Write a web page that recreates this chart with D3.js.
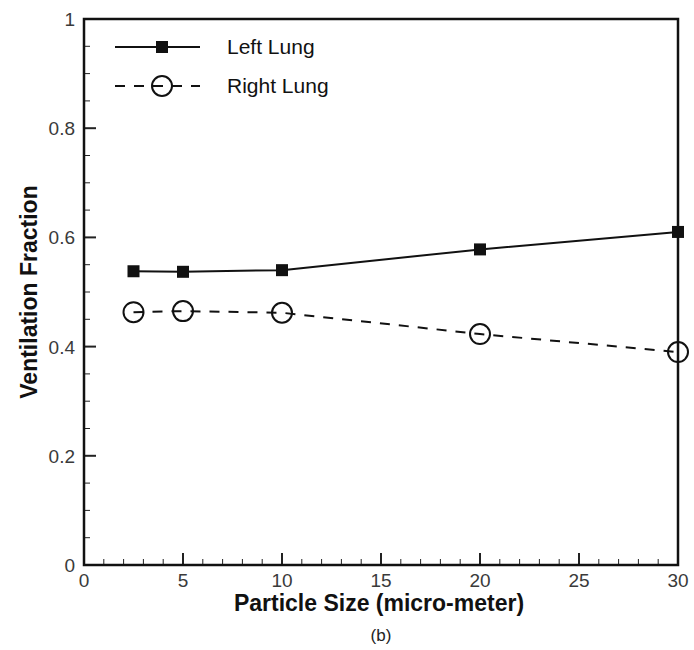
<head>
  <script src="https://d3js.org/d3.v7.min.js"></script>
  <style>
    body { margin: 0; background: #fff; }
    text { font-family: "Liberation Sans", Arial, sans-serif; }
    .tick-label { fill: #3a3a3a; font-size: 19px; }
    .axis-title { font-weight: bold; font-size: 23px; fill: #111; }
  </style>
</head>

<body>
  <svg id="chart" width="694" height="650"></svg>
</body>

<script>
  // data
  const particleSize = [2.5, 5, 10, 20, 30];
  const leftLung = [0.538, 0.537, 0.540, 0.578, 0.610];
  const rightLung = [0.463, 0.465, 0.462, 0.423, 0.390];
  const xTicks = [0, 5, 10, 15, 20, 25, 30];
  const yTicks = [0, 0.2, 0.4, 0.6, 0.8, 1];
  const seriesNames = ["Left Lung", "Right Lung"];

  const svg = d3.select("#chart");
  const margin = { top: 19, right: 16, bottom: 85, left: 84 };
  const width = 694, height = 650;
  const x = d3.scaleLinear().domain([0, 30]).range([margin.left, width - margin.right]);
  const y = d3.scaleLinear().domain([0, 1]).range([height - margin.bottom, margin.top]);

  const g = svg.append("g");

  // minor + major ticks, pointing inward
  const xMinor = d3.range(0, 31, 1);
  g.selectAll("line.xminor").data(xMinor).join("line")
    .attr("x1", d => x(d)).attr("x2", d => x(d))
    .attr("y1", y(0)).attr("y2", d => y(0) - (d % 5 === 0 ? 12 : 6))
    .attr("stroke", "#222").attr("stroke-width", d => d % 5 === 0 ? 2 : 1);

  const yMinor = d3.range(0, 21).map(i => i * 0.05);
  g.selectAll("line.yminor").data(yMinor).join("line")
    .attr("y1", d => y(d)).attr("y2", d => y(d))
    .attr("x1", x(0)).attr("x2", (d, i) => x(0) + (i % 4 === 0 ? 12 : 6))
    .attr("stroke", "#222").attr("stroke-width", (d, i) => i % 4 === 0 ? 2 : 1);

  // frame
  g.append("rect")
    .attr("x", x(0)).attr("y", y(1))
    .attr("width", x(30) - x(0)).attr("height", y(0) - y(1))
    .attr("fill", "none").attr("stroke", "#111").attr("stroke-width", 2.5);

  // tick labels
  g.selectAll("text.xt").data(xTicks).join("text")
    .attr("class", "tick-label")
    .attr("x", d => x(d)).attr("y", y(0) + 22)
    .attr("text-anchor", "middle")
    .text(d => d);

  g.selectAll("text.yt").data(yTicks).join("text")
    .attr("class", "tick-label")
    .attr("x", x(0) - 9).attr("y", d => y(d) + 7)
    .attr("text-anchor", "end")
    .text(d => d);

  // axis titles
  g.append("text").attr("class", "axis-title")
    .attr("x", 379).attr("y", y(0) + 46)
    .attr("text-anchor", "middle")
    .text("Particle Size (micro-meter)");

  g.append("text").attr("class", "axis-title")
    .attr("transform", `translate(37,${(y(0) + y(1)) / 2}) rotate(-90)`)
    .attr("text-anchor", "middle")
    .text("Ventilation Fraction");

  g.append("text")
    .attr("x", 381).attr("y", y(0) + 76)
    .attr("text-anchor", "middle")
    .style("font-size", "17px").style("fill", "#222")
    .text("(b)");

  // series
  const line = d3.line().x(d => x(d[0])).y(d => y(d[1]));
  const leftData = particleSize.map((d, i) => [d, leftLung[i]]);
  const rightData = particleSize.map((d, i) => [d, rightLung[i]]);

  g.append("path").datum(leftData)
    .attr("d", line).attr("fill", "none").attr("stroke", "#111").attr("stroke-width", 2);
  g.append("path").datum(rightData)
    .attr("d", line).attr("fill", "none").attr("stroke", "#111").attr("stroke-width", 2)
    .attr("stroke-dasharray", "10,9");

  g.selectAll("rect.sq").data(leftData).join("rect")
    .attr("x", d => x(d[0]) - 6).attr("y", d => y(d[1]) - 6)
    .attr("width", 12).attr("height", 12).attr("fill", "#111");

  g.selectAll("circle.ci").data(rightData).join("circle")
    .attr("cx", d => x(d[0])).attr("cy", d => y(d[1]))
    .attr("r", 10).attr("fill", "none").attr("stroke", "#111").attr("stroke-width", 2);

  // legend
  const legend = g.append("g");
  const ly = [47, 86];
  legend.append("line").attr("x1", 115).attr("x2", 200).attr("y1", ly[0]).attr("y2", ly[0])
    .attr("stroke", "#111").attr("stroke-width", 2);
  legend.append("rect").attr("x", 156).attr("y", ly[0] - 6).attr("width", 12).attr("height", 12).attr("fill", "#111");
  legend.append("line").attr("x1", 115).attr("x2", 200).attr("y1", ly[1]).attr("y2", ly[1])
    .attr("stroke", "#111").attr("stroke-width", 2).attr("stroke-dasharray", "10,9");
  legend.append("circle").attr("cx", 162).attr("cy", ly[1]).attr("r", 10)
    .attr("fill", "none").attr("stroke", "#111").attr("stroke-width", 2);
  legend.selectAll("text").data(seriesNames).join("text")
    .attr("x", 227).attr("y", (d, i) => ly[i] + 7)
    .style("font-size", "21px").style("fill", "#111")
    .text(d => d);
</script>
